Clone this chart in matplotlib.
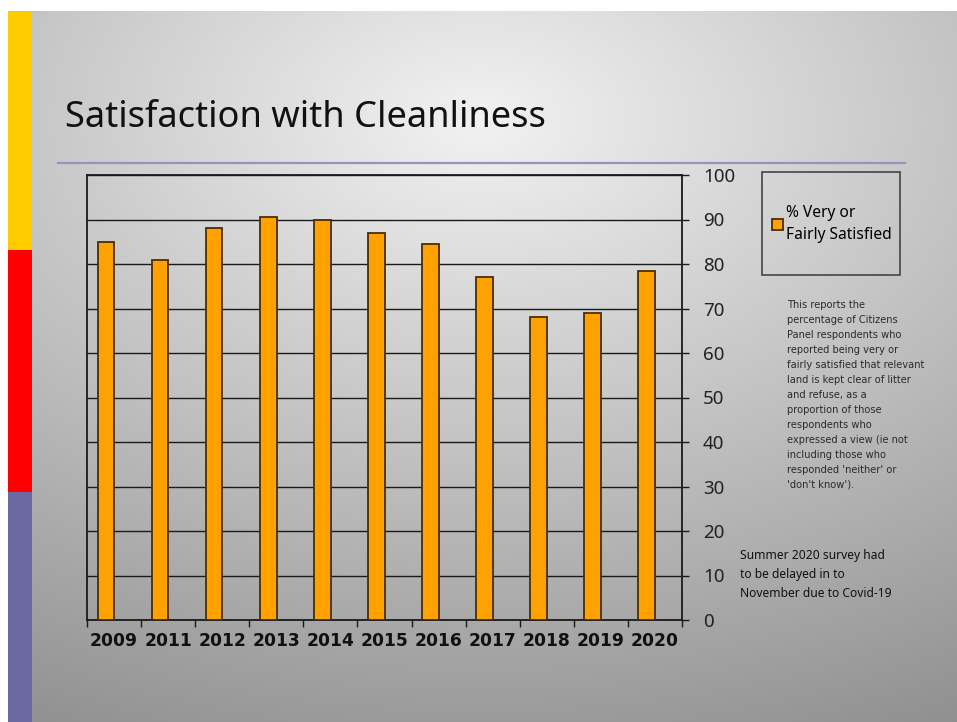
import numpy as np
import matplotlib
matplotlib.use("Agg")
import matplotlib.pyplot as plt
from matplotlib.patches import Rectangle, Patch
from matplotlib.lines import Line2D

# data
years = ["2009", "2011", "2012", "2013", "2014", "2015", "2016", "2017", "2018", "2019", "2020"]
satisfied = [85, 81, 88, 90.5, 90, 87, 84.5, 77, 68, 69, 78.5]
y_ticks = [0, 10, 20, 30, 40, 50, 60, 70, 80, 90, 100]

title = "Satisfaction with Cleanliness"
legend_label = "% Very or\nFairly Satisfied"
note_text = ("This reports the\npercentage of Citizens\nPanel respondents who\n"
             "reported being very or\nfairly satisfied that relevant\n"
             "land is kept clear of litter\nand refuse, as a\nproportion of those\n"
             "respondents who\nexpressed a view (ie not\nincluding those who\n"
             "responded 'neither' or\n'don't know').")
covid_text = "Summer 2020 survey had\nto be delayed in to\nNovember due to Covid-19"

bar_color = "#FFA200"
bar_edge = "#4a2e00"
dark = "#1a1a1a"

W, H = 957, 722
fig = plt.figure(figsize=(W / 100, H / 100), dpi=100)
fig.patch.set_facecolor("white")

# slide background: grey gradient, light at top centre
bg = fig.add_axes([0, 0, 1, 1], zorder=0)
yy, xx = np.mgrid[0:H, 0:W]
drop = np.sqrt(((xx - 480) * 0.095) ** 2 + ((yy - 120) * 0.145) ** 2)
grey = np.clip(242 - drop, 125, 242) / 255.0
img = np.dstack([grey, grey, grey])
img[:11, :, :] = 1.0
img[:, :8, :] = 1.0
# coloured strip on the left
img[11:250, 8:32] = np.array([255, 204, 0]) / 255
img[250:492, 8:32] = np.array([255, 0, 0]) / 255
img[492:, 8:32] = np.array([108, 105, 160]) / 255
bg.imshow(img, extent=[0, W, H, 0], aspect="auto")
bg.set_xlim(0, W)
bg.set_ylim(H, 0)
bg.axis("off")

# title and separator
fig.text(65 / W, 1 - 118 / H, title, fontsize=26.1, family="Noto Sans",
         color="#111111", va="center", ha="left", zorder=2)
fig.add_artist(Line2D([58 / W, 905 / W], [1 - 163 / H, 1 - 163 / H],
                      color="#9494bc", lw=1.6, zorder=2))

# chart
left, right, top, bottom = 87, 682, 175, 620
ax = fig.add_axes([left / W, 1 - bottom / H, (right - left) / W, (bottom - top) / H], zorder=3)
ax.patch.set_alpha(0)

x = np.arange(len(years))
ax.bar(x - 0.15, satisfied, width=0.31, color=bar_color, edgecolor=bar_edge,
       linewidth=1.3, zorder=3)

ax.set_xlim(-0.5, len(years) - 0.5)
ax.set_ylim(0, 100)
ax.yaxis.tick_right()
ax.set_yticks(y_ticks)
ax.set_yticklabels([str(t) for t in y_ticks], fontsize=13.5, family="Noto Sans", color="#222222")
ax.tick_params(axis="y", direction="out", length=5, width=1, color=dark, pad=10)
ax.grid(axis="y", color=dark, lw=1, zorder=1)

ax.set_xticks(x)
ax.set_xticklabels(years, fontsize=12.3, family="DejaVu Sans", fontweight="bold", color="#111111")
ax.tick_params(axis="x", length=0, pad=9)
ax.set_xticks(np.arange(-0.5, len(years)), minor=True)
ax.tick_params(axis="x", which="minor", direction="out", length=5, width=1, color=dark)

for s in ax.spines.values():
    s.set_color(dark)
    s.set_linewidth(1.3)

# legend box
fig.add_artist(Rectangle((762 / W, 1 - 275 / H), 138 / W, 103 / H, fill=False,
                         edgecolor="#444444", lw=1.2, zorder=4))
handle = Patch(facecolor=bar_color, edgecolor=bar_edge, lw=1.3)
leg = fig.legend([handle], [legend_label], loc="center left",
                 bbox_to_anchor=(758 / W, 1 - 224 / H), frameon=False,
                 prop={"family": "Noto Sans", "size": 11.2}, handlelength=0.7,
                 handleheight=0.7, handletextpad=0.2, labelspacing=0.3)
leg.get_texts()[0].set_linespacing(1.45)

# notes
fig.text(787 / W, 1 - 300 / H, note_text, fontsize=7.1, family="DejaVu Sans",
         color="#2a2a2a", va="top", ha="left", linespacing=1.62, zorder=4)
fig.text(740 / W, 1 - 549 / H, covid_text, fontsize=8.7, family="Noto Sans",
         color="#111111", va="top", ha="left", linespacing=1.6, zorder=4)

fig.savefig("out.png", dpi=100)
